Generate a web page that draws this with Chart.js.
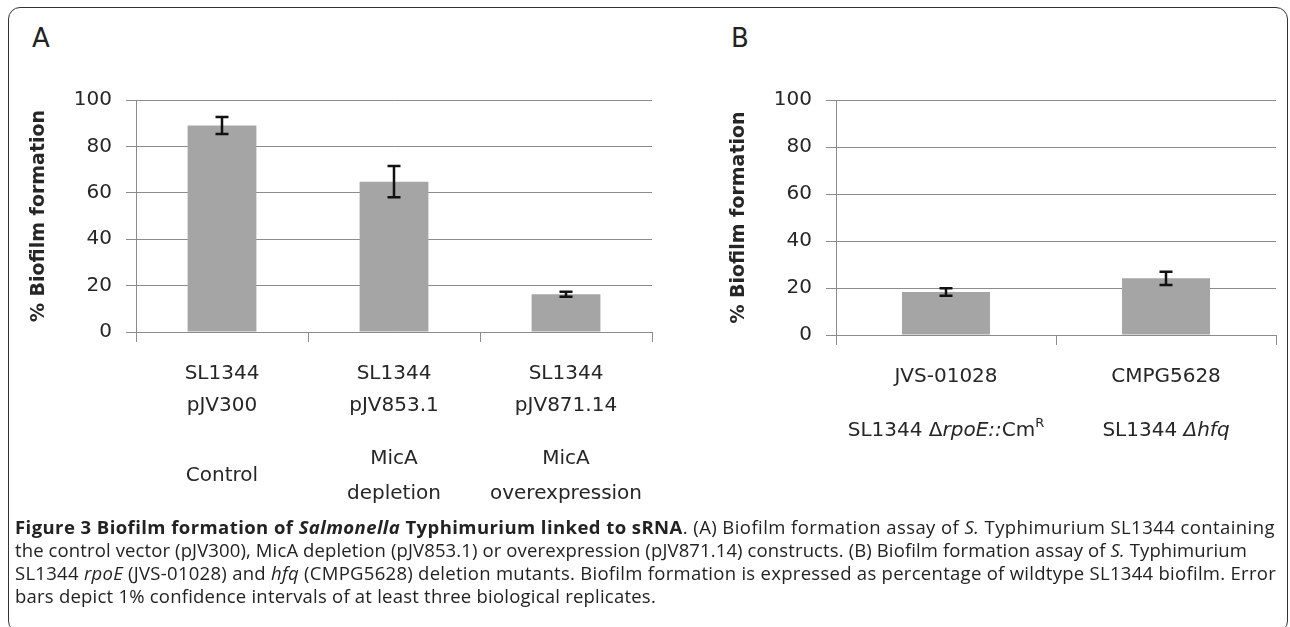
<!DOCTYPE html>
<html>
<head>
<meta charset="utf-8">
<script src="https://cdn.jsdelivr.net/npm/chart.js@4.4.1/dist/chart.umd.min.js"></script>
<style>
html,body{margin:0;padding:0;background:#fff;}
#page{position:relative;width:1290px;height:627px;overflow:hidden;}
#frame{position:absolute;left:8px;top:7px;width:1280px;height:626px;border:1px solid #333;border-radius:12px;box-sizing:border-box;}
canvas{position:absolute;top:0;}
.panel{position:absolute;top:25px;font-family:'DejaVu Sans';font-size:26px;line-height:26px;color:#222;}
#caption{position:absolute;left:15px;top:515px;font-family:'Open Sans';font-size:18.5px;line-height:23px;color:#222;}
#caption div{white-space:nowrap;width:max-content;}
</style>
</head>
<body>
<div id="page">
  <div id="frame"></div>
  <div class="panel" style="left:32px">A</div>
  <div class="panel" style="left:731px">B</div>
  <canvas id="chartA" width="660" height="520" style="left:0"></canvas>
  <canvas id="chartB" width="590" height="520" style="left:700px"></canvas>
  <div id="caption">
    <div><b>Figure 3 Biofilm formation of <i>Salmonella</i> Typhimurium linked to sRNA</b>. (A) Biofilm formation assay of <i>S.</i> Typhimurium SL1344 containing</div>
    <div>the control vector (pJV300), MicA depletion (pJV853.1) or overexpression (pJV871.14) constructs. (B) Biofilm formation assay of <i>S.</i> Typhimurium</div>
    <div>SL1344 <i>rpoE</i> (JVS-01028) and <i>hfq</i> (CMPG5628) deletion mutants. Biofilm formation is expressed as percentage of wildtype SL1344 biofilm. Error</div>
    <div>bars depict 1% confidence intervals of at least three biological replicates.</div>
  </div>
</div>
<script>
// panel A data
var labelsA = [['SL1344','pJV300'], ['SL1344','pJV853.1'], ['SL1344','pJV871.14']];
var groupsA = [['Control'], ['MicA','depletion'], ['MicA','overexpression']];
var valuesA = [89, 64.8, 16.3];
var errorsA = [3.7, 6.7, 1.1];

// panel B data
var labelsB = ['JVS-01028', 'CMPG5628'];
var groupsB = [
	[[['SL1344 ','n'], ['\u0394','n'], ['rpoE::','i'], ['Cm','n'], ['R','sup']]],
	[[['SL1344 ','n'], ['\u0394hfq','i']]]
];
var valuesB = [18.3, 24.1];
var errorsB = [1.6, 2.8];

var yMin = 0, yMax = 100, yStep = 20;
var yTitle = '% Biofilm formation';

var FONT = 'DejaVu Sans';
var GRID = '#8c8c8c';
var TXT = '#262626';
var BAR = '#a5a5a5';

//ERROR BARS DRAWN FROM THE DATASET VALUES
var errorBars = {
	id: 'errorBars',
	afterDatasetsDraw: function(chart){
		var ctx = chart.ctx, y = chart.scales.y;
		var ds = chart.data.datasets[0], meta = chart.getDatasetMeta(0);
		ctx.save();
		ctx.strokeStyle = '#111';
		ctx.lineWidth = 2.5;
		meta.data.forEach(function(bar, i){
			var v = ds.data[i], e = ds.errors[i];
			var top = y.getPixelForValue(v + e), bot = y.getPixelForValue(v - e);
			ctx.beginPath();
			ctx.moveTo(bar.x, top); ctx.lineTo(bar.x, bot);
			ctx.moveTo(bar.x - 6.5, top); ctx.lineTo(bar.x + 6.5, top);
			ctx.moveTo(bar.x - 6.5, bot); ctx.lineTo(bar.x + 6.5, bot);
			ctx.stroke();
		});
		ctx.restore();
	}
};

//SECOND ROW OF CATEGORY TEXT UNDER THE TICKS
function groupPlugin(groups, offset, gap){
	var fonts = {n: '20px ' + FONT, i: 'italic 20px ' + FONT, sup: '13px ' + FONT};
	return {
		id: 'groupLabels',
		afterDraw: function(chart){
			var ctx = chart.ctx, xs = chart.scales.x;
			var mid = chart.chartArea.bottom + offset;
			ctx.save();
			ctx.fillStyle = TXT;
			ctx.textBaseline = 'middle';
			ctx.textAlign = 'left';
			groups.forEach(function(lines, i){
				var cx = xs.getPixelForValue(i);
				var y0 = mid - (lines.length - 1) * gap / 2;
				lines.forEach(function(line, j){
					var segs = typeof line === 'string' ? [[line, 'n']] : line;
					var total = 0;
					segs.forEach(function(s){ ctx.font = fonts[s[1]]; total += ctx.measureText(s[0]).width; });
					var x = cx - total / 2, y = y0 + j * gap;
					segs.forEach(function(s){
						ctx.font = fonts[s[1]];
						ctx.fillText(s[0], x, s[1] === 'sup' ? y - 7 : y);
						x += ctx.measureText(s[0]).width;
					});
				});
			});
			ctx.restore();
		}
	};
}

function makeChart(id, labels, values, errors, plugin, rightPad, axisBottom){
	var canvas = document.getElementById(id);
	var h = canvas.height;
	return new Chart(canvas, {
		type: 'bar',
		data: {
			labels: labels,
			datasets: [{data: values, errors: errors, backgroundColor: BAR, barPercentage: 0.4, categoryPercentage: 1}]
		},
		options: {
			responsive: false,
			animation: false,
			layout: {padding: {top: 100, right: rightPad, left: 0, bottom: 0}},
			plugins: {legend: {display: false}, tooltip: {enabled: false}},
			scales: {
				x: {
					grid: {offset: true, drawOnChartArea: false, tickLength: 10, color: GRID},
					border: {color: GRID},
					ticks: {font: {family: FONT, size: 20, lineHeight: 1.6}, color: TXT, padding: 16, maxRotation: 0, autoSkip: false},
					afterFit: function(s){ s.height = h - axisBottom; }
				},
				y: {
					min: yMin, max: yMax,
					ticks: {stepSize: yStep, font: {family: FONT, size: 20}, color: TXT, padding: 14},
					grid: {color: GRID, tickLength: 10},
					border: {color: GRID},
					title: {display: true, text: yTitle, font: {family: FONT, size: 19, weight: 'bold'}, color: TXT, padding: {top: 28, bottom: 0}},
					afterFit: function(s){ s.width = 136; }
				}
			}
		},
		plugins: [errorBars, plugin]
	});
}

makeChart('chartA', labelsA, valuesA, errorsA, groupPlugin(groupsA, 144, 35), 8, 332);
makeChart('chartB', labelsB, valuesB, errorsB, groupPlugin(groupsB, 96, 35), 14, 335);

//STRETCH EACH CAPTION LINE TO ITS ORIGINAL RIGHT EDGE
var capEnds = [1275, 1247, 1276, 656];
var capLines = document.querySelectorAll('#caption div');
capLines.forEach(function(el, i){
	var r = el.getBoundingClientRect();
	var n = el.textContent.length;
	el.style.letterSpacing = ((capEnds[i] - r.left - r.width) / n) + 'px';
});
</script>
</body>
</html>
